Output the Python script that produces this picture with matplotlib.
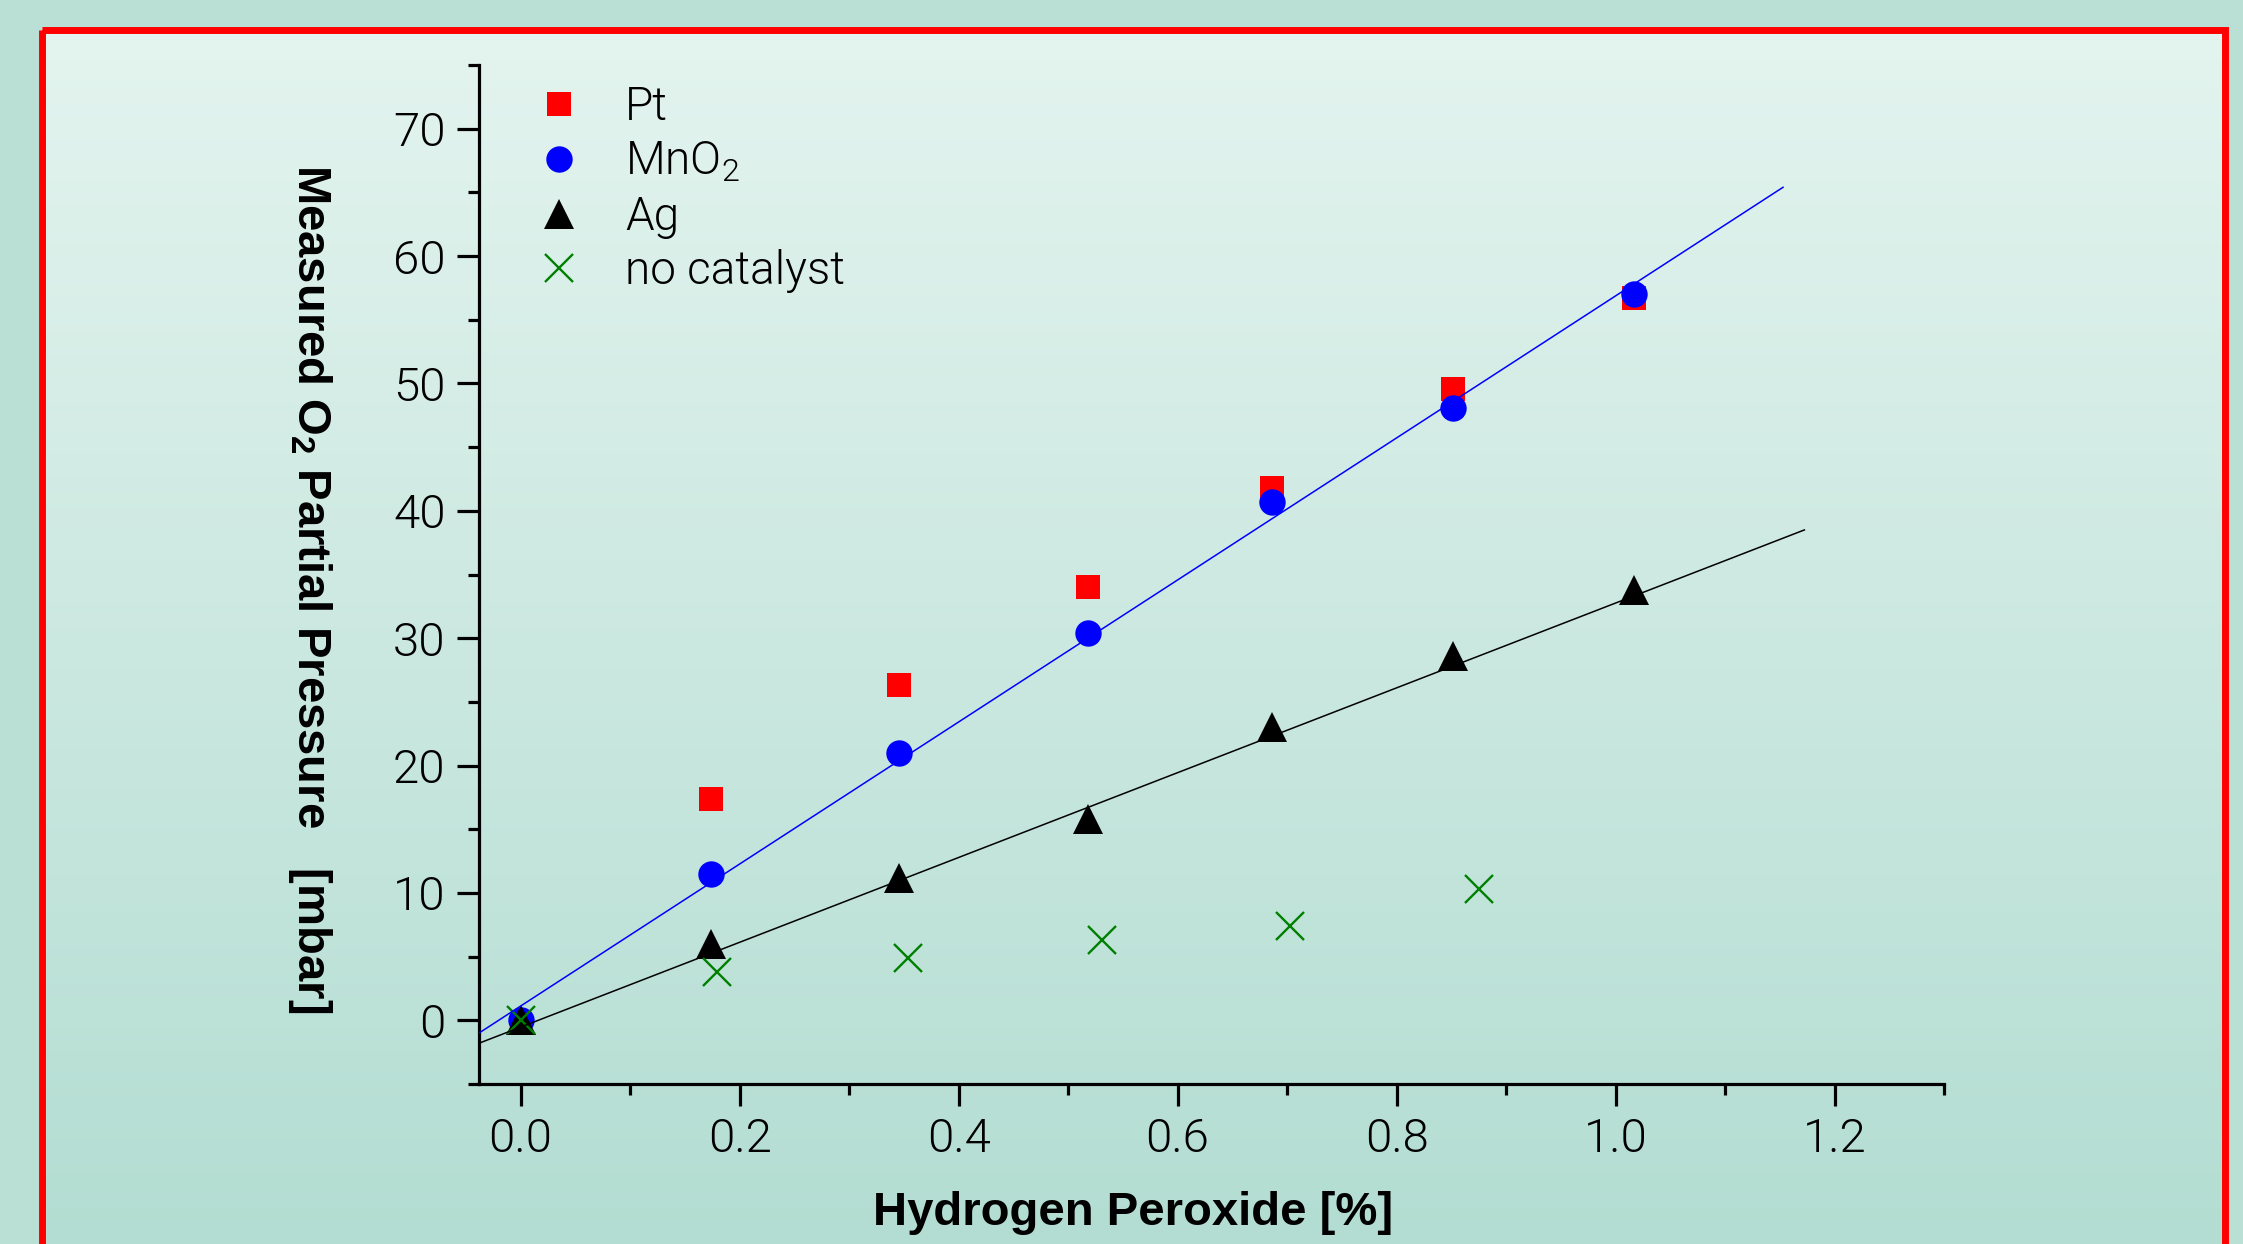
import numpy as np
import matplotlib
matplotlib.use('Agg')
import matplotlib.pyplot as plt
from matplotlib import font_manager as fm
from matplotlib.patches import Rectangle
from matplotlib.ticker import MultipleLocator, FormatStrFormatter

# data
x_cat = [0.0, 0.174, 0.346, 0.518, 0.686, 0.852, 1.017]
x_pt = [0.174, 0.346, 0.518, 0.686, 0.852, 1.017]
y_pt = [17.4, 26.3, 34.0, 41.8, 49.6, 56.7]
y_mno2 = [0.0, 11.5, 21.0, 30.4, 40.7, 48.1, 57.0]
y_ag = [0.0, 6.0, 11.2, 15.8, 23.0, 28.6, 33.8]
x_none = [0.0, 0.179, 0.354, 0.531, 0.703, 0.875]
y_none = [0.0, 3.8, 4.9, 6.3, 7.4, 10.3]

# fitted lines (end points as drawn)
fit_x_mno2 = [-0.038, 1.153]
fit_y_mno2 = [-1.0, 65.4]
fit_x_ag = [-0.038, 1.1725]
fit_y_ag = [-1.8, 38.5]

labels = ['Pt', 'MnO$_2$', 'Ag', 'no catalyst']

W, H = 2243, 1244


# pick a light sans face if one is installed
def light_family():
    for fam in ['Roboto', 'Lato', 'Open Sans', 'Inter', 'Noto Sans']:
        for f in fm.fontManager.ttflist:
            if f.name == fam and isinstance(f.weight, int) and f.weight <= 300 and f.style == 'normal':
                return fam, 300
    return 'Liberation Sans', 400


fam, wt = light_family()
plt.rcParams['font.family'] = [fam, 'DejaVu Sans']
plt.rcParams['font.weight'] = wt
plt.rcParams['mathtext.default'] = 'regular'

fig = plt.figure(figsize=(W / 100, H / 100), dpi=100)
fig.patch.set_facecolor('#bae0d6')

# background panel with gradient and red frame
bg = fig.add_axes([0, 0, 1, 1], zorder=-10)
bg.set_xlim(0, W)
bg.set_ylim(H, 0)
bg.axis('off')
top_c = np.array([0xe4, 0xf4, 0xef]) / 255
bot_c = np.array([0xb3, 0xdd, 0xd2]) / 255
t = np.linspace(0, 1, 256)[:, None]
grad = (top_c[None, :] * (1 - t) + bot_c[None, :] * t)[:, None, :]
bg.imshow(grad, extent=(42, 2225, 1250, 30), aspect='auto', origin='upper')
bg.add_patch(Rectangle((42, 30), 2183, 1300, fill=False, ec='#ff0000', lw=5))

ax = fig.add_axes([479 / W, 1 - 1084 / H, 1465 / W, 1019 / H])
ax.patch.set_alpha(0)

h_pt, = ax.plot(x_pt, y_pt, 's', color='#ff0000', ms=17, mew=0, zorder=2)
h_mn, = ax.plot(x_cat, y_mno2, 'o', color='#0000ff', ms=19, mew=0, zorder=2)
h_ag, = ax.plot(x_cat, y_ag, '^', color='black', ms=21, mew=0, zorder=2)
h_no, = ax.plot(x_none, y_none, 'x', color='#008000', ms=20, mew=1.7, zorder=2)
ax.plot(fit_x_mno2, fit_y_mno2, color='#0000ff', lw=1.1, zorder=3)
ax.plot(fit_x_ag, fit_y_ag, color='black', lw=1.1, zorder=3)

ax.set_xlim(-0.038, 1.3)
ax.set_ylim(-5, 75)
ax.xaxis.set_major_locator(MultipleLocator(0.2))
ax.xaxis.set_minor_locator(MultipleLocator(0.1))
ax.xaxis.set_major_formatter(FormatStrFormatter('%.1f'))
ax.yaxis.set_major_locator(MultipleLocator(10))
ax.yaxis.set_minor_locator(MultipleLocator(5))

for s in ['top', 'right']:
    ax.spines[s].set_visible(False)
for s in ['left', 'bottom']:
    ax.spines[s].set_linewidth(2.3)
ax.tick_params(which='major', direction='out', length=16, width=2.3, labelsize=34)
ax.tick_params(which='minor', direction='out', length=8, width=2.3)
ax.tick_params(axis='x', pad=8)
ax.tick_params(axis='y', pad=8)

ax.legend([h_pt, h_mn, h_ag, h_no], labels, loc='upper left',
          bbox_to_anchor=(536 / W, 1 - 85 / H), bbox_transform=fig.transFigure,
          frameon=False, fontsize=33, handlelength=1.0, handletextpad=0.94,
          labelspacing=0.23, borderpad=0, borderaxespad=0, numpoints=1)

fig.text(1133 / W, 1 - 1225 / H, 'Hydrogen Peroxide [%]', ha='center', va='baseline',
         fontsize=34, fontweight='bold', family='Liberation Sans')
fig.text(310 / W, 1 - 589 / H, 'Measured O$_2$ Partial Pressure   [mbar]', rotation=270,
         ha='center', va='center', fontsize=34, fontweight='bold', family='Liberation Sans')

fig.savefig('out.png', dpi=100, facecolor=fig.get_facecolor())
